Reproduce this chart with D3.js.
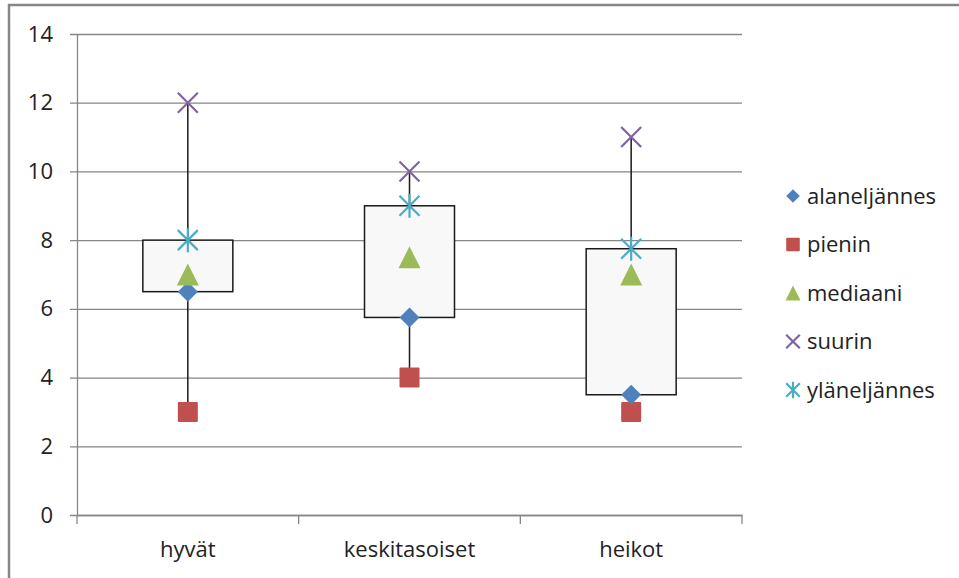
<!DOCTYPE html>
<html>
<head>
<meta charset="utf-8">
<script src="https://cdn.jsdelivr.net/npm/d3@7"></script>
<style>
  html, body { margin: 0; padding: 0; background: #fff; }
  svg { display: block; }
  text { font-family: "Open Sans", "Noto Sans", sans-serif; fill: #222; }
</style>
</head>
<body>
<svg id="chart" width="959" height="578"></svg>
<script>
// Groups and five-number summaries
const categories = ["hyvät", "keskitasoiset", "heikot"];
const alaneljannes = [6.5, 5.75, 3.5];   // lower quartile
const pienin       = [3, 4, 3];          // minimum
const mediaani     = [7, 7.5, 7];        // median
const suurin       = [12, 10, 11];       // maximum
const ylaneljannes = [8, 9, 7.75];       // upper quartile
const yTicks = [0, 2, 4, 6, 8, 10, 12, 14];

const seriesNames = ["alaneljännes", "pienin", "mediaani", "suurin", "yläneljännes"];
const seriesValues = [alaneljannes, pienin, mediaani, suurin, ylaneljannes];
const seriesColors = ["#4F81BD", "#C0504D", "#9BBB59", "#8064A2", "#4BACC6"];

const svg = d3.select("#chart");
const plot = { left: 77, right: 742, top: 34, bottom: 515 };

// Outer chart frame (top and left edges visible)
svg.append("path")
  .attr("d", "M9,600 L9,5 L980,5")
  .attr("fill", "none").attr("stroke", "#878787").attr("stroke-width", 2.5);

const x = d3.scaleBand().domain(categories).range([plot.left, plot.right]);
const y = d3.scaleLinear().domain([0, 14]).range([plot.bottom, plot.top]);

// Horizontal gridlines with left tick stubs
const yAxis = d3.axisLeft(y).tickValues(yTicks)
  .tickSize(-(plot.right - plot.left)).tickSizeOuter(0).tickPadding(24);
const gy = svg.append("g").attr("transform", `translate(${plot.left},0)`).call(yAxis);
gy.select(".domain").attr("stroke", "#868686").attr("stroke-width", 1.3);
gy.selectAll(".tick line").attr("stroke", "#868686").attr("stroke-width", 1.3)
  .attr("x1", -7);
gy.selectAll(".tick text").style("font-size", "22px").attr("fill", "#222");

// Category axis with boundary ticks
const xAxis = d3.axisBottom(x).tickSize(0).tickPadding(26);
const gx = svg.append("g").attr("transform", `translate(0,${plot.bottom})`).call(xAxis);
gx.select(".domain").attr("stroke", "#868686").attr("stroke-width", 1.3);
gx.selectAll(".tick text").style("font-size", "22px").attr("fill", "#222");
const bounds = [0, 1, 2, 3].map(i => plot.left + i * x.step());
gx.selectAll("line.bound").data(bounds).enter().append("line")
  .attr("class", "bound")
  .attr("x1", d => d).attr("x2", d => d).attr("y1", 0).attr("y2", 9)
  .attr("stroke", "#868686").attr("stroke-width", 1.3);

// Boxes and whiskers
const boxW = 90;
const g = svg.append("g");
categories.forEach((c, i) => {
  const cx = x(c) + x.bandwidth() / 2;
  g.append("line")
    .attr("x1", cx).attr("x2", cx)
    .attr("y1", y(suurin[i])).attr("y2", y(ylaneljannes[i]))
    .attr("stroke", "#1a1a1a").attr("stroke-width", 1.5);
  g.append("line")
    .attr("x1", cx).attr("x2", cx)
    .attr("y1", y(alaneljannes[i])).attr("y2", y(pienin[i]))
    .attr("stroke", "#1a1a1a").attr("stroke-width", 1.5);
  g.append("rect")
    .attr("x", cx - boxW / 2).attr("width", boxW)
    .attr("y", y(ylaneljannes[i]))
    .attr("height", y(alaneljannes[i]) - y(ylaneljannes[i]))
    .attr("fill", "#f8f8f8").attr("stroke", "#1a1a1a").attr("stroke-width", 1.5);
});

// Marker shapes for each series
function drawMarker(sel, k, scale) {
  const s = scale || 1;
  const col = seriesColors[k];
  if (k === 0) {
    sel.append("path").attr("d", `M0,${-10*s} L${10*s},0 L0,${10*s} L${-10*s},0 Z`).attr("fill", col);
  } else if (k === 1) {
    sel.append("rect").attr("x", -10*s).attr("y", -10*s).attr("width", 20*s).attr("height", 20*s)
      .attr("rx", 1).attr("fill", col);
  } else if (k === 2) {
    sel.append("path").attr("d", `M0,${-11*s} L${11*s},${11*s} L${-11*s},${11*s} Z`).attr("fill", col);
  } else if (k === 3) {
    const r = 10 * s;
    sel.append("path").attr("d", `M${-r},${-r} L${r},${r} M${-r},${r} L${r},${-r}`)
      .attr("stroke", col).attr("stroke-width", 2.2).attr("fill", "none");
  } else {
    const r = 10 * s;
    sel.append("path").attr("d", `M${-r},${-r} L${r},${r} M${-r},${r} L${r},${-r} M0,${-r*1.2} L0,${r*1.2}`)
      .attr("stroke", col).attr("stroke-width", 2.2).attr("fill", "none");
  }
}

const markerOrder = [1, 0, 3, 4, 2];
markerOrder.forEach(k => {
  categories.forEach((c, i) => {
    const cx = x(c) + x.bandwidth() / 2;
    const m = g.append("g").attr("transform", `translate(${cx},${y(seriesValues[k][i])})`);
    drawMarker(m, k, 1);
  });
});

// Legend
const legend = svg.append("g").attr("transform", "translate(793,196)");
seriesNames.forEach((name, k) => {
  const row = legend.append("g").attr("transform", `translate(0,${k * 48.5})`);
  drawMarker(row, k, 0.68);
  row.append("text").attr("x", 14).attr("y", 0).attr("dy", "0.35em")
    .style("font-size", "22px").text(name);
});
</script>
</body>
</html>
